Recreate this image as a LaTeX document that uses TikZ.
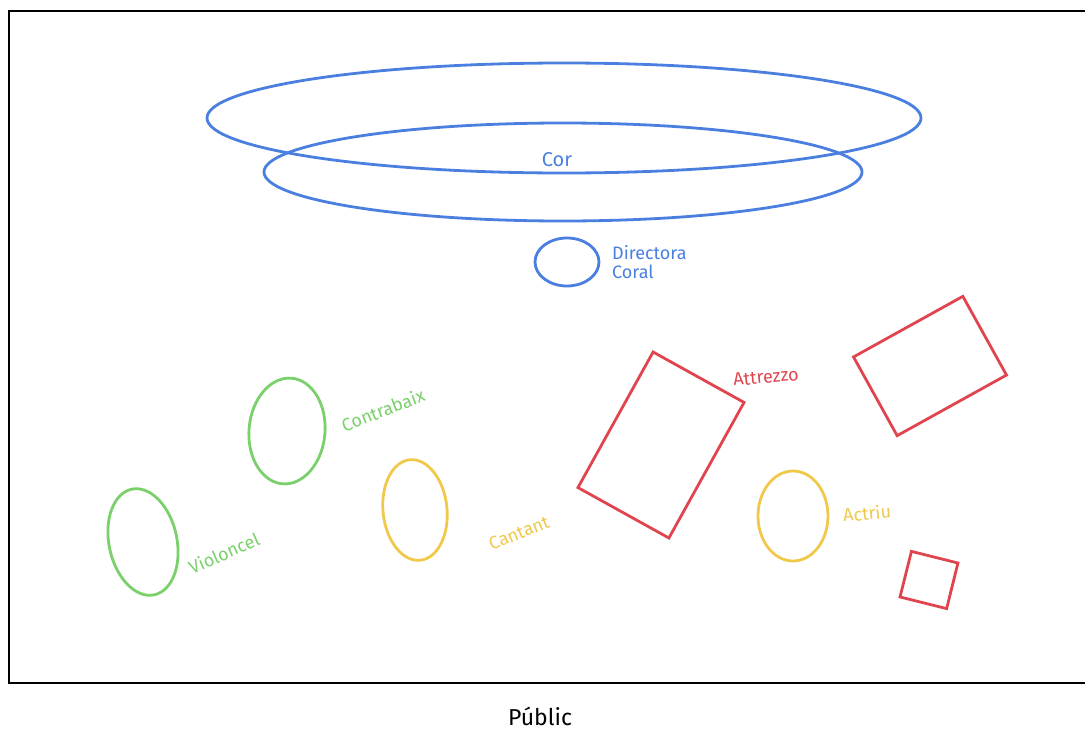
\documentclass[tikz,border=0pt]{standalone}
\usepackage{fontspec}
\setmainfont{Fira Sans}
\usetikzlibrary{shapes.geometric}
\definecolor{corblue}{HTML}{4A7FE0}
\definecolor{musgreen}{HTML}{7AD06A}
\definecolor{actyellow}{HTML}{F0C84A}
\definecolor{propred}{HTML}{E0454F}
\begin{document}
\begin{tikzpicture}[x=1pt,y=-1pt,
    shapeline/.style={line width=2.8pt},
    oval/.style={shapeline,ellipse,inner sep=0pt},
    prop/.style={shapeline,draw=propred,rectangle,inner sep=0pt},
    lbl/.style={font=\fontsize{18}{19}\selectfont,inner sep=0pt}]
  \useasboundingbox (0,0) rectangle (1085,731);
  % escenari
  \draw[line width=2.6pt] (1085,11) -- (9,11) -- (9,683) -- (1085,683);
  \node[lbl,font=\fontsize{23}{24}\selectfont] (publ) at (540,716) {Públic};
  % cor
  \node[oval,draw=corblue,minimum width=714pt,minimum height=110pt] (cor1) at (564,118) {};
  \node[oval,draw=corblue,minimum width=598pt,minimum height=98pt] (cor2) at (563,172) {};
  \node[lbl,text=corblue,font=\fontsize{20}{21}\selectfont] (cor) at (557,160) {Cor};
  \node[oval,draw=corblue,minimum width=64pt,minimum height=48pt] (dir) at (567,262) {};
  \node[lbl,text=corblue,align=left,anchor=west] (dirl) at (612,262) {Directora\\Coral};
  % musics
  \node[oval,draw=musgreen,minimum width=76pt,minimum height=106pt,rotate=-5] (cb) at (287,431) {};
  \node[lbl,text=musgreen,rotate=21] (cbl) at (383,410) {Contrabaix};
  \node[oval,draw=musgreen,minimum width=68pt,minimum height=108pt,rotate=12] (vc) at (143,542) {};
  \node[lbl,text=musgreen,rotate=24] (vcl) at (224,553) {Violoncel};
  % actors
  \node[oval,draw=actyellow,minimum width=64pt,minimum height=101pt,rotate=6] (cant) at (415,510) {};
  \node[lbl,text=actyellow,rotate=22] (cantl) at (519,533) {Cantant};
  \node[oval,draw=actyellow,minimum width=70pt,minimum height=90pt] (actr) at (793,516) {};
  \node[lbl,text=actyellow,rotate=5] (actrl) at (867,513) {Actriu};
  % attrezzo
  \node[prop,minimum width=104pt,minimum height=155pt,rotate=-29] (att1) at (661,445) {};
  \node[lbl,text=propred,rotate=5] (attl) at (766,377) {Attrezzo};
  \node[prop,minimum width=125pt,minimum height=90pt,rotate=29] (att2) at (930,366) {};
  \node[prop,minimum width=48pt,minimum height=47pt,rotate=-14] (att3) at (929,580) {};
\end{tikzpicture}
\end{document}
